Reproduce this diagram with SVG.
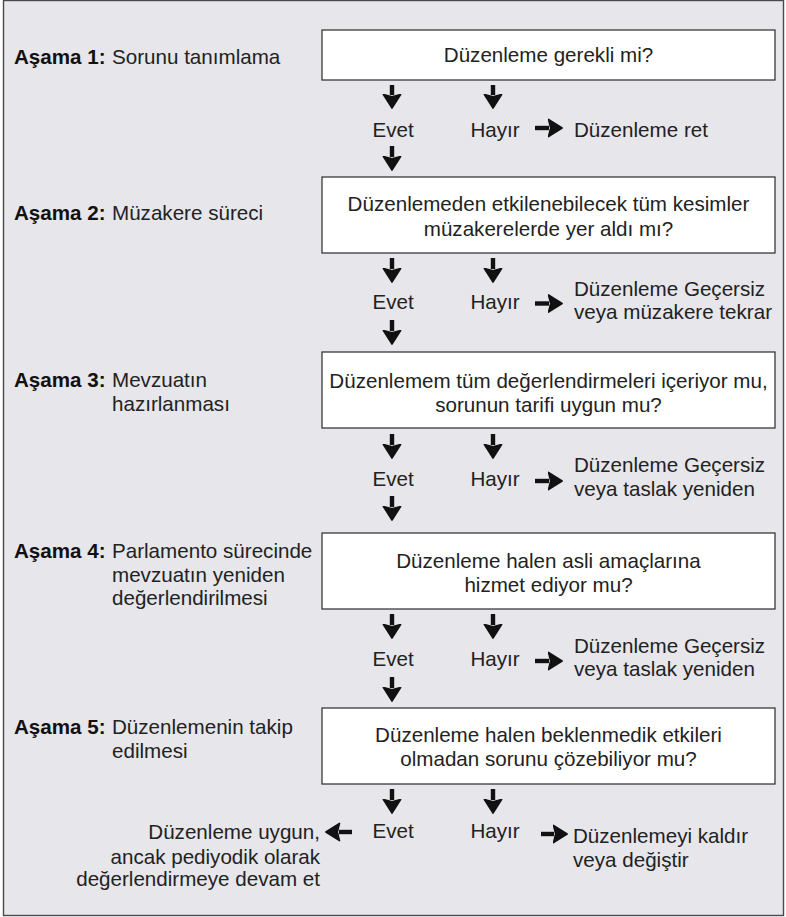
<svg xmlns="http://www.w3.org/2000/svg" width="786" height="917" viewBox="0 0 786 917">
  <style>
    text { font-family: "Liberation Sans", Arial, Helvetica, sans-serif; font-size: 20.6px; fill: #222222; }
    .b { font-weight: bold; fill: #111111; }
    .c { text-anchor: middle; }
    .r { text-anchor: end; }
    .box { fill: #ffffff; stroke: #2b2b2b; stroke-width: 1.2; }
    .arr { stroke: #111; stroke-width: 4.4; fill: none; marker-end: url(#ah); }
  </style>
  <defs>
    <marker id="ah" markerUnits="userSpaceOnUse" markerWidth="16" markerHeight="20" viewBox="0 0 16 20" refX="1.5" refY="10" orient="auto">
      <path d="M1,1.4 L14.6,10 L1,18.6 L3.2,10 Z" fill="#111" stroke="#111" stroke-width="1.6" stroke-linejoin="round"/>
    </marker>
  </defs>

  <rect id="frame" x="3.5" y="0.5" width="780" height="915" fill="#e6e6eb" stroke="#4a4a4a" stroke-width="1.4"/>

  <g id="stage1"><text x="14" y="64"><tspan class="b">Aşama 1:</tspan><tspan x="112">Sorunu tanımlama</tspan></text></g>
  <g id="stage2"><text x="14" y="220"><tspan class="b">Aşama 2:</tspan><tspan x="112">Müzakere süreci</tspan></text></g>
  <g id="stage3"><text x="14" y="387"><tspan class="b">Aşama 3:</tspan><tspan x="112">Mevzuatın</tspan><tspan x="112" dy="24">hazırlanması</tspan></text></g>
  <g id="stage4"><text x="14" y="558"><tspan class="b">Aşama 4:</tspan><tspan x="112">Parlamento sürecinde</tspan><tspan x="112" dy="23.5">mevzuatın yeniden</tspan><tspan x="112" dy="23.5">değerlendirilmesi</tspan></text></g>
  <g id="stage5"><text x="14" y="734"><tspan class="b">Aşama 5:</tspan><tspan x="112">Düzenlemenin takip</tspan><tspan x="112" dy="23.5">edilmesi</tspan></text></g>

  <g id="q1"><rect class="box" x="322" y="30" width="453" height="50"/><text class="c" x="548.5" y="62">Düzenleme gerekli mi?</text></g>
  <g id="q2"><rect class="box" x="322" y="177" width="453" height="76"/><text class="c" x="548.5" y="211">Düzenlemeden etkilenebilecek tüm kesimler</text><text class="c" x="548.5" y="236">müzakerelerde yer aldı mı?</text></g>
  <g id="q3"><rect class="box" x="322" y="352" width="453" height="76"/><text class="c" x="548.5" y="388">Düzenlemem tüm değerlendirmeleri içeriyor mu,</text><text class="c" x="548.5" y="412">sorunun tarifi uygun mu?</text></g>
  <g id="q4"><rect class="box" x="322" y="533" width="453" height="76"/><text class="c" x="548.5" y="568">Düzenleme halen asli amaçlarına</text><text class="c" x="548.5" y="592">hizmet ediyor mu?</text></g>
  <g id="q5"><rect class="box" x="322" y="708" width="453" height="76"/><text class="c" x="548.5" y="742">Düzenleme halen beklenmedik etkileri</text><text class="c" x="548.5" y="766">olmadan sorunu çözebiliyor mu?</text></g>

  <g id="labels1"><text class="c" x="393" y="136.5">Evet</text><text class="c" x="495" y="136.5">Hayır</text></g>
  <g id="labels2"><text class="c" x="393" y="308.5">Evet</text><text class="c" x="495" y="308.5">Hayır</text></g>
  <g id="labels3"><text class="c" x="393" y="486">Evet</text><text class="c" x="495" y="486">Hayır</text></g>
  <g id="labels4"><text class="c" x="393" y="666">Evet</text><text class="c" x="495" y="666">Hayır</text></g>
  <g id="labels5"><text class="c" x="393" y="838">Evet</text><text class="c" x="495" y="838">Hayır</text></g>

  <g id="out1"><text x="574" y="136.5">Düzenleme ret</text></g>
  <g id="out2"><text x="574" y="296">Düzenleme Geçersiz</text><text x="574" y="319">veya müzakere tekrar</text></g>
  <g id="out3"><text x="574" y="472">Düzenleme Geçersiz</text><text x="574" y="496">veya taslak yeniden</text></g>
  <g id="out4"><text x="574" y="652.5">Düzenleme Geçersiz</text><text x="574" y="676">veya taslak yeniden</text></g>
  <g id="out5"><text x="573" y="843">Düzenlemeyi kaldır</text><text x="573" y="867">veya değiştir</text></g>
  <g id="out6"><text class="r" x="320" y="839">Düzenleme uygun,</text><text class="r" x="320" y="864">ancak pediyodik olarak</text><text class="r" x="320" y="886">değerlendirmeye devam et</text></g>

  <g id="connectors">
    <line class="arr" x1="392" y1="85" x2="392" y2="95"/>
    <line class="arr" x1="493" y1="85" x2="493" y2="95"/>
    <line class="arr" x1="392" y1="146" x2="392" y2="157"/>
    <line class="arr" x1="535" y1="128" x2="549" y2="128"/>

    <line class="arr" x1="392" y1="258" x2="392" y2="269"/>
    <line class="arr" x1="493" y1="258" x2="493" y2="269"/>
    <line class="arr" x1="392" y1="320" x2="392" y2="331"/>
    <line class="arr" x1="535" y1="303.5" x2="549" y2="303.5"/>

    <line class="arr" x1="392" y1="434" x2="392" y2="445"/>
    <line class="arr" x1="493" y1="434" x2="493" y2="445"/>
    <line class="arr" x1="392" y1="496" x2="392" y2="507"/>
    <line class="arr" x1="535" y1="481" x2="549" y2="481"/>

    <line class="arr" x1="392" y1="614" x2="392" y2="625"/>
    <line class="arr" x1="493" y1="614" x2="493" y2="625"/>
    <line class="arr" x1="392" y1="677" x2="392" y2="688"/>
    <line class="arr" x1="535" y1="661" x2="549" y2="661"/>

    <line class="arr" x1="392" y1="789" x2="392" y2="800"/>
    <line class="arr" x1="493" y1="789" x2="493" y2="800"/>
    <line class="arr" x1="541" y1="834" x2="554" y2="834"/>
    <line class="arr" x1="352" y1="832" x2="339" y2="832"/>
  </g>
</svg>
